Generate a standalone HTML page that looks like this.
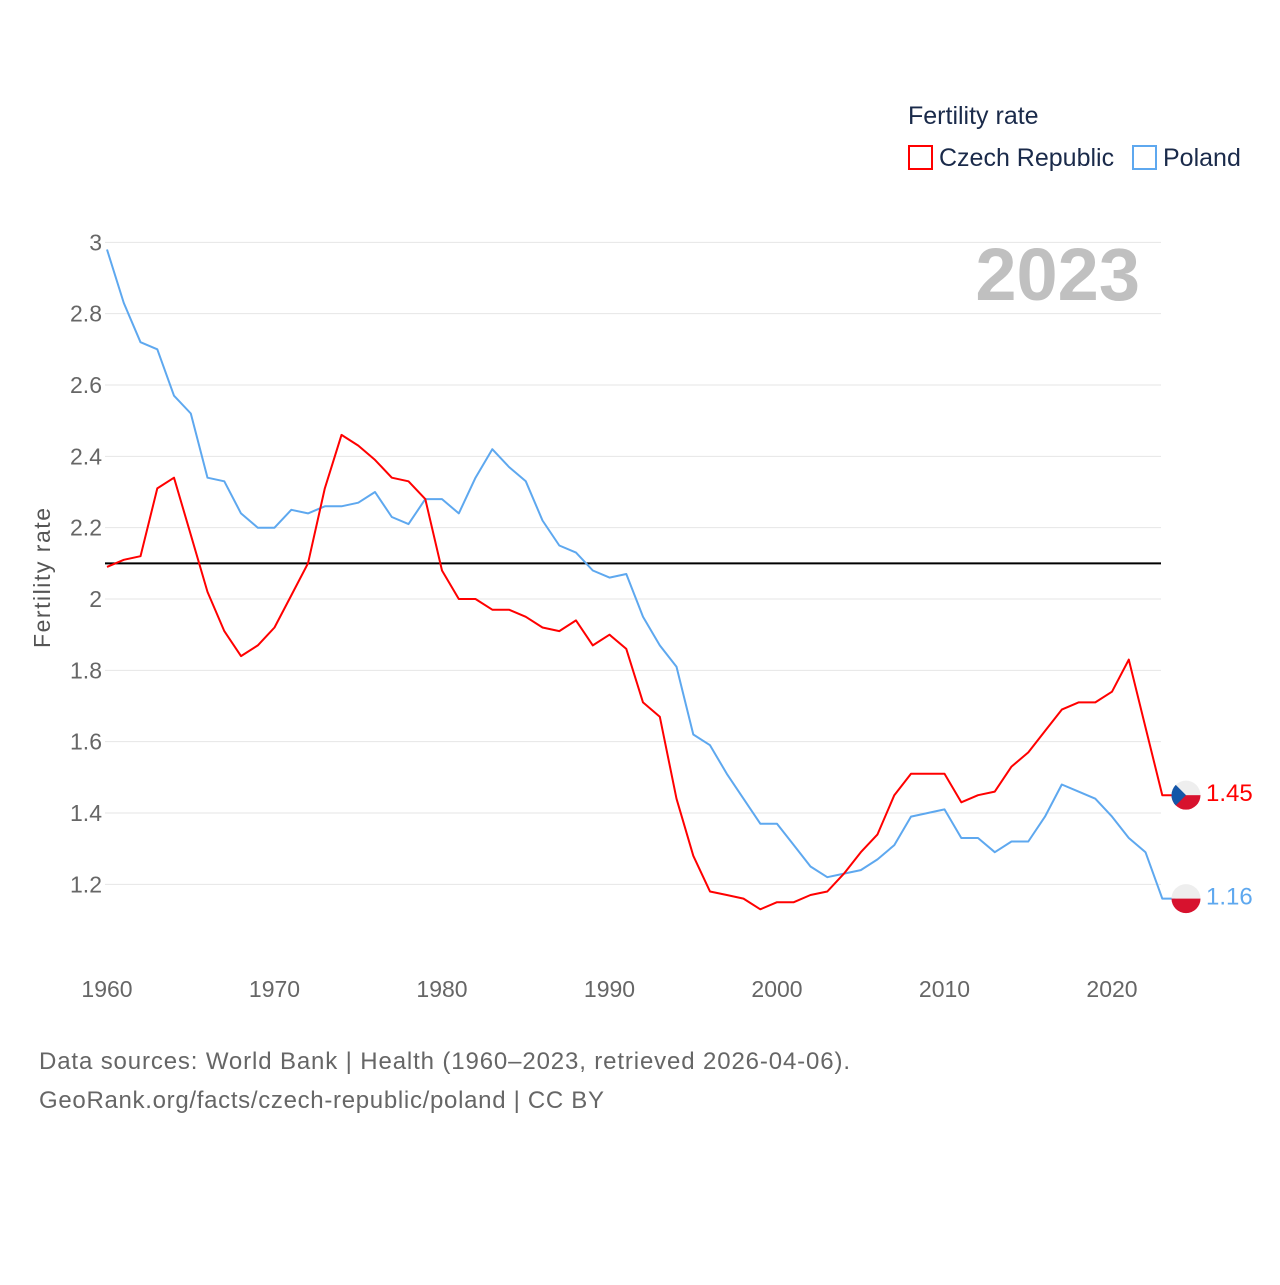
<!DOCTYPE html>
<html><head><meta charset="utf-8"><style>
body{margin:0;background:#fff;width:1280px;height:1280px;overflow:hidden;font-family:"Liberation Sans",sans-serif}
</style></head><body>
<svg id="chart" width="1280" height="1280" xmlns="http://www.w3.org/2000/svg" font-family="Liberation Sans, sans-serif">
<g>
<text x="908" y="124" font-size="25" fill="#1a2a4a">Fertility rate</text>
<rect x="909" y="146" width="23" height="23" fill="none" stroke="#f00" stroke-width="2"/>
<text x="939" y="166" font-size="25" fill="#1a2a4a">Czech Republic</text>
<rect x="1133" y="146" width="23" height="23" fill="none" stroke="#5ea8ef" stroke-width="2"/>
<text x="1163" y="166" font-size="25" fill="#1a2a4a">Poland</text>
</g>
<text x="1140" y="300" font-size="74" font-weight="bold" fill="#c0c0c0" text-anchor="end">2023</text>
<g id="grid"></g>
<g id="yt"></g>
<g id="xt"></g>
<text transform="translate(50,578) rotate(-90)" font-size="23" fill="#555" text-anchor="middle" textLength="140">Fertility rate</text>
<g id="series"></g>
<g>
<text x="39" y="1069" font-size="24" fill="#666" textLength="811">Data sources: World Bank | Health (1960–2023, retrieved 2026-04-06).</text>
<text x="39" y="1108" font-size="24" fill="#666" textLength="565">GeoRank.org/facts/czech-republic/poland | CC BY</text>
</g>
</svg>
<script>
const years=[];for(let y=1960;y<=2023;y++)years.push(y);
const czech=[2.09,2.11,2.12,2.31,2.34,2.18,2.02,1.91,1.84,1.87,1.92,2.01,2.10,2.31,2.46,2.43,2.39,2.34,2.33,2.28,2.08,2.00,2.00,1.97,1.97,1.95,1.92,1.91,1.94,1.87,1.90,1.86,1.71,1.67,1.44,1.28,1.18,1.17,1.16,1.13,1.15,1.15,1.17,1.18,1.23,1.29,1.34,1.45,1.51,1.51,1.51,1.43,1.45,1.46,1.53,1.57,1.63,1.69,1.71,1.71,1.74,1.83,1.64,1.45];
const poland=[2.98,2.83,2.72,2.70,2.57,2.52,2.34,2.33,2.24,2.20,2.20,2.25,2.24,2.26,2.26,2.27,2.30,2.23,2.21,2.28,2.28,2.24,2.34,2.42,2.37,2.33,2.22,2.15,2.13,2.08,2.06,2.07,1.95,1.87,1.81,1.62,1.59,1.51,1.44,1.37,1.37,1.31,1.25,1.22,1.23,1.24,1.27,1.31,1.39,1.40,1.41,1.33,1.33,1.29,1.32,1.32,1.39,1.48,1.46,1.44,1.39,1.33,1.29,1.16];
const yTicks=[1.2,1.4,1.6,1.8,2,2.2,2.4,2.6,2.8,3];
const xTicks=[1960,1970,1980,1990,2000,2010,2020];
const refLine=2.1;
const X=v=>107+(v-1960)*16.75, Y=v=>599-(v-2)*356.67;
const NS="http://www.w3.org/2000/svg";
function mk(t,a,p){const e=document.createElementNS(NS,t);for(const k in a)e.setAttribute(k,a[k]);p.appendChild(e);return e;}
const grid=document.getElementById('grid'),yt=document.getElementById('yt'),xt=document.getElementById('xt'),ser=document.getElementById('series');
yTicks.forEach(v=>{const l=mk('line',{x1:105,x2:1161,y1:Y(v),y2:Y(v),stroke:'#e6e6e6','stroke-width':1},grid);


const t=mk('text',{x:102,y:Y(v)+8,'font-size':23,fill:'#666','text-anchor':'end'},yt);t.textContent=String(v);

});
xTicks.forEach(v=>{const t=mk('text',{x:X(v),y:997,'font-size':23,fill:'#666','text-anchor':'middle'},xt);t.textContent=v;

});
const rl=mk('line',{x1:105,x2:1161,y1:Y(refLine),y2:Y(refLine),stroke:'#000','stroke-width':2},ser);


function draw(data,col,name){let d=data.map((v,i)=>(i?'L':'M')+X(years[i]).toFixed(1)+','+Y(v).toFixed(1)).join('');
d+='L'+(X(years[years.length-1])+13)+','+Y(data[data.length-1]).toFixed(1);
const p=mk('path',{d:d,fill:'none',stroke:col,'stroke-width':2,'stroke-linejoin':'round'},ser);

}
draw(poland,'#5ea8ef','poland');draw(czech,'#f00','czech');
function flag(v,kind,col,name){const cx=1186,cy=Y(v);const g=mk('g',{},ser);


const id='c'+name;const cp=mk('clipPath',{id:id},g);mk('circle',{cx:cx,cy:cy,r:14.5},cp);
const gg=mk('g',{'clip-path':'url(#'+id+')'},g);
mk('rect',{x:cx-15,y:cy-15,width:30,height:15,fill:'#eee'},gg);
mk('rect',{x:cx-15,y:cy,width:30,height:15,fill:'#d7122e'},gg);
if(kind==='cz')mk('path',{d:`M${cx-15},${cy-15}L${cx},${cy}L${cx-15},${cy+15}Z`,fill:'#1456a8'},gg);
const t=mk('text',{x:1206,y:cy+6,'font-size':24,fill:col},ser);t.textContent=v.toFixed(2);

}
flag(czech[czech.length-1],'cz','#f00','czech');
flag(poland[poland.length-1],'pl','#5ea8ef','poland');
</script>
</body></html>
